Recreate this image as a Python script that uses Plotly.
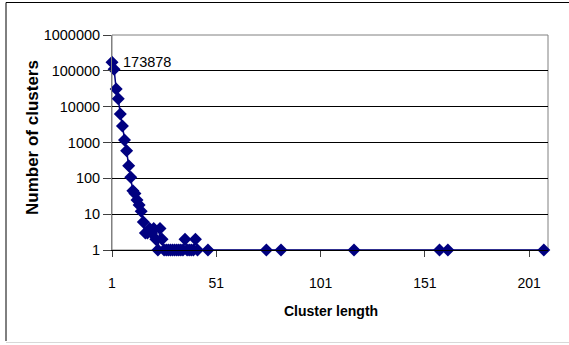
import plotly.graph_objects as go
import math

# Data
cluster_length = [1, 2, 3, 4, 5, 6, 7, 8, 9, 10,
                  11, 12, 13, 14, 15, 16, 17, 18, 19, 20,
                  21, 22, 23, 24, 25, 26, 27, 28, 29, 30,
                  31, 32, 33, 34, 35, 36, 37, 38, 39, 40,
                  41, 42, 47, 75, 82, 117, 158, 162, 208]
num_clusters = [173878, 110000, 31000, 16500, 6200, 2900, 1180, 590, 224, 107,
                45, 38, 25, 18, 12, 6, 3, 3, 4, 3,
                4, 2, 1, 4, 2, 1, 1, 1, 1, 1,
                1, 1, 1, 1, 1, 2, 1, 1, 1, 1,
                2, 1, 1, 1, 1, 1, 1, 1, 1]

x_ticks = [1, 51, 101, 151, 201]
y_ticks = [1, 10, 100, 1000, 10000, 100000, 1000000]
y_ticktext = ["1", "10", "100", "1000", "10000", "100000", "1000000"]

peak_label = "173878"
x_title = "Cluster length"
y_title = "Number of clusters"

W, H = 569, 345
L, R, T, B = 112, 21, 35, 95
pw, ph = W - L - R, H - T - B


def px_to_paper_x(px):
    return (px - L) / pw


def px_to_paper_y(py):
    return (H - B - py) / ph


FONT = "Arial, Liberation Sans, sans-serif"
NAVY = "#000080"

fig = go.Figure()
fig.add_trace(go.Scatter(
    x=cluster_length, y=num_clusters,
    mode="lines+markers",
    line=dict(color=NAVY, width=1.5),
    marker=dict(symbol="diamond", size=10, color=NAVY, line=dict(width=0)),
    showlegend=False, cliponaxis=False,
))

fig.add_annotation(
    x=cluster_length[0], y=math.log10(num_clusters[0]), xref="x", yref="y",
    text=peak_label, showarrow=False, xanchor="left", yanchor="middle",
    xshift=9, yshift=0, font=dict(family=FONT, size=14.5, color="black"),
)

# axis titles
fig.add_annotation(
    x=px_to_paper_x(331), y=px_to_paper_y(311), xref="paper", yref="paper",
    text="<b>" + x_title + "</b>", showarrow=False, xanchor="center", yanchor="middle",
    font=dict(family=FONT, size=14, color="black"),
)
fig.add_annotation(
    x=px_to_paper_x(32), y=px_to_paper_y(138), xref="paper", yref="paper",
    text="<b>" + y_title + "</b>", showarrow=False, xanchor="center", yanchor="middle",
    textangle=-90, font=dict(family=FONT, size=17, color="black"),
)

# plot area border (gray)
fig.add_shape(type="rect", xref="paper", yref="paper", x0=0, y0=0, x1=1, y1=1,
              line=dict(color="#808080", width=1), layer="below")
# outer chart frame
fig.add_shape(type="line", xref="paper", yref="paper",
              x0=px_to_paper_x(6), x1=px_to_paper_x(6),
              y0=px_to_paper_y(2.5), y1=px_to_paper_y(341),
              line=dict(color="black", width=1))
fig.add_shape(type="line", xref="paper", yref="paper",
              x0=px_to_paper_x(6), x1=px_to_paper_x(580),
              y0=px_to_paper_y(2.5), y1=px_to_paper_y(2.5),
              line=dict(color="black", width=1))
fig.add_shape(type="line", xref="paper", yref="paper",
              x0=px_to_paper_x(6), x1=px_to_paper_x(580),
              y0=px_to_paper_y(342.5), y1=px_to_paper_y(342.5),
              line=dict(color="#d8d8d8", width=1))

fig.update_layout(
    width=W, height=H,
    margin=dict(l=L, r=R, t=T, b=B, pad=0),
    paper_bgcolor="white", plot_bgcolor="white",
    font=dict(family=FONT, size=14, color="black"),
    xaxis=dict(
        range=[1, 210], tickmode="array", tickvals=x_ticks,
        ticks="outside", ticklen=6, tickcolor="#404040", tickwidth=1,
        showgrid=False, zeroline=False,
        showline=True, linecolor="black", linewidth=1,
        tickfont=dict(family=FONT, size=14, color="black"),
        ticklabelstandoff=14,
    ),
    yaxis=dict(
        type="log", range=[0, 6], tickmode="array",
        tickvals=y_ticks, ticktext=y_ticktext,
        ticks="outside", ticklen=8, tickcolor="#404040", tickwidth=1,
        showgrid=True, gridcolor="black", gridwidth=1,
        zeroline=False, showline=True, linecolor="#808080", linewidth=1,
        tickfont=dict(family=FONT, size=14.5, color="black"),
    ),
)

fig.write_html("out.html")
